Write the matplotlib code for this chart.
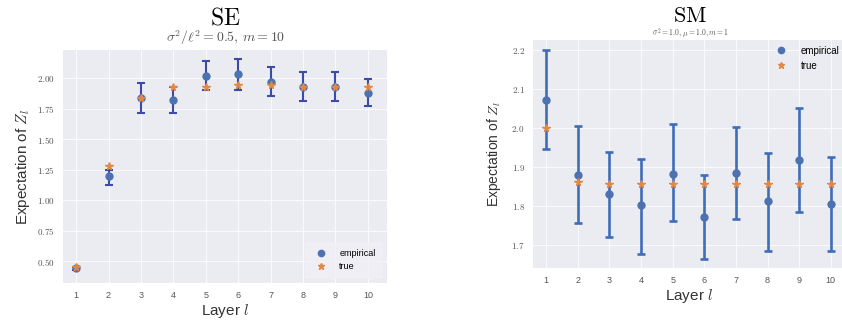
import numpy as np
import matplotlib.pyplot as plt
from matplotlib.ticker import FuncFormatter

plt.rcParams["mathtext.fontset"] = "cm"
plt.rcParams["font.family"] = ["Liberation Sans", "DejaVu Sans"]

layers = np.arange(1, 11)

# SE kernel, sigma^2/l^2 = 0.5, m = 10
se_emp = [0.44, 1.20, 1.835, 1.82, 2.02, 2.03, 1.97, 1.93, 1.93, 1.88]
se_lo = [0.43, 1.12, 1.71, 1.71, 1.90, 1.90, 1.85, 1.81, 1.81, 1.77]
se_hi = [0.45, 1.25, 1.96, 1.93, 2.14, 2.16, 2.09, 2.05, 2.05, 1.99]
se_true = [0.45, 1.28, 1.84, 1.93, 1.93, 1.94, 1.94, 1.93, 1.93, 1.93]

# SM kernel, sigma^2 = 1.0, mu = 1.0, m = 1
sm_emp = [2.072, 1.879, 1.830, 1.801, 1.881, 1.772, 1.884, 1.813, 1.918, 1.804]
sm_lo = [1.946, 1.757, 1.719, 1.677, 1.760, 1.663, 1.766, 1.683, 1.783, 1.683]
sm_hi = [2.200, 2.006, 1.938, 1.921, 2.009, 1.879, 2.003, 1.935, 2.050, 1.926]
sm_true = [2.000, 1.861, 1.856, 1.856, 1.856, 1.856, 1.856, 1.856, 1.856, 1.856]

blue = "#4C72B0"
orange = "#E38744"


def style_axes(ax, yticks, fmt):
    ax.set_facecolor("#EBEBF2")
    for s in ax.spines.values():
        s.set_visible(False)
    ax.grid(True, color="white", linewidth=0.8, alpha=0.8)
    ax.set_axisbelow(True)
    ax.set_xticks(layers)
    ax.set_yticks(yticks)
    ax.yaxis.set_major_formatter(FuncFormatter(lambda v, p: r"$\mathrm{%s}$" % (fmt % v)))
    ax.tick_params(length=0, labelsize=6.5, colors="#555555", pad=6)
    ax.set_xlabel(r"Layer $l$", fontsize=11, color="#333333", labelpad=1)


def draw(ax, emp, lo, hi, true, ecolor, elw, cap):
    emp = np.asarray(emp)
    yerr = [emp - np.asarray(lo), np.asarray(hi) - emp]
    ax.errorbar(layers, emp, yerr=yerr, fmt="none", ecolor=ecolor,
                elinewidth=elw, capsize=cap, capthick=elw, zorder=2)
    ax.plot(layers, emp, "o", color=blue, markersize=5, label="empirical", zorder=3)
    ax.plot(layers, true, "*", color=orange, markersize=5.5, label="true", zorder=4)


fig = plt.figure(figsize=(8.42, 3.25), dpi=100)

ax1 = fig.add_axes([0.075, 0.129, 0.385, 0.717])
style_axes(ax1, [0.5, 0.75, 1.0, 1.25, 1.5, 1.75, 2.0], "%.2f")
draw(ax1, se_emp, se_lo, se_hi, se_true, "#3A4BA8", 1.5, 3)
ax1.set_xlim(0.6, 10.6)
ax1.set_ylim(0.32, 2.23)
ax1.set_ylabel(r"Expectation of $Z_l$", fontsize=11, color="#333333", labelpad=4)
ax1.legend(loc="lower right", fontsize=6.5, frameon=True, facecolor="#F0F0F5",
           edgecolor="none", handletextpad=1.0, borderpad=0.8, markerscale=0.9)
fig.text(0.2675, 0.925, r"$\mathrm{SE}$", ha="center", va="baseline", fontsize=17)
fig.text(0.2675, 0.885, r"$\sigma^2/\ell^2=0.5,\, m=10$", ha="center", va="center",
         fontsize=10, color="#555555")

ax2 = fig.add_axes([0.633, 0.175, 0.3705, 0.702])
style_axes(ax2, [1.7, 1.8, 1.9, 2.0, 2.1, 2.2], "%.1f")
draw(ax2, sm_emp, sm_lo, sm_hi, sm_true, "#3F6DB8", 1.9, 3)
ax2.set_xlim(0.58, 10.45)
ax2.set_ylim(1.64, 2.226)
ax2.set_ylabel(r"Expectation of $Z_l$", fontsize=10, color="#333333", labelpad=6)
ax2.legend(loc="upper right", fontsize=7, frameon=False, handletextpad=1.0,
           borderaxespad=0.2, markerscale=0.9)
fig.text(0.82, 0.932, r"$\mathrm{SM}$", ha="center", va="baseline", fontsize=16)
fig.text(0.82, 0.898, r"$\sigma^2=1.0, \mu=1.0, m=1$", ha="center", va="center",
         fontsize=5.5, color="#555555")

fig.savefig("out.png", dpi=100)
